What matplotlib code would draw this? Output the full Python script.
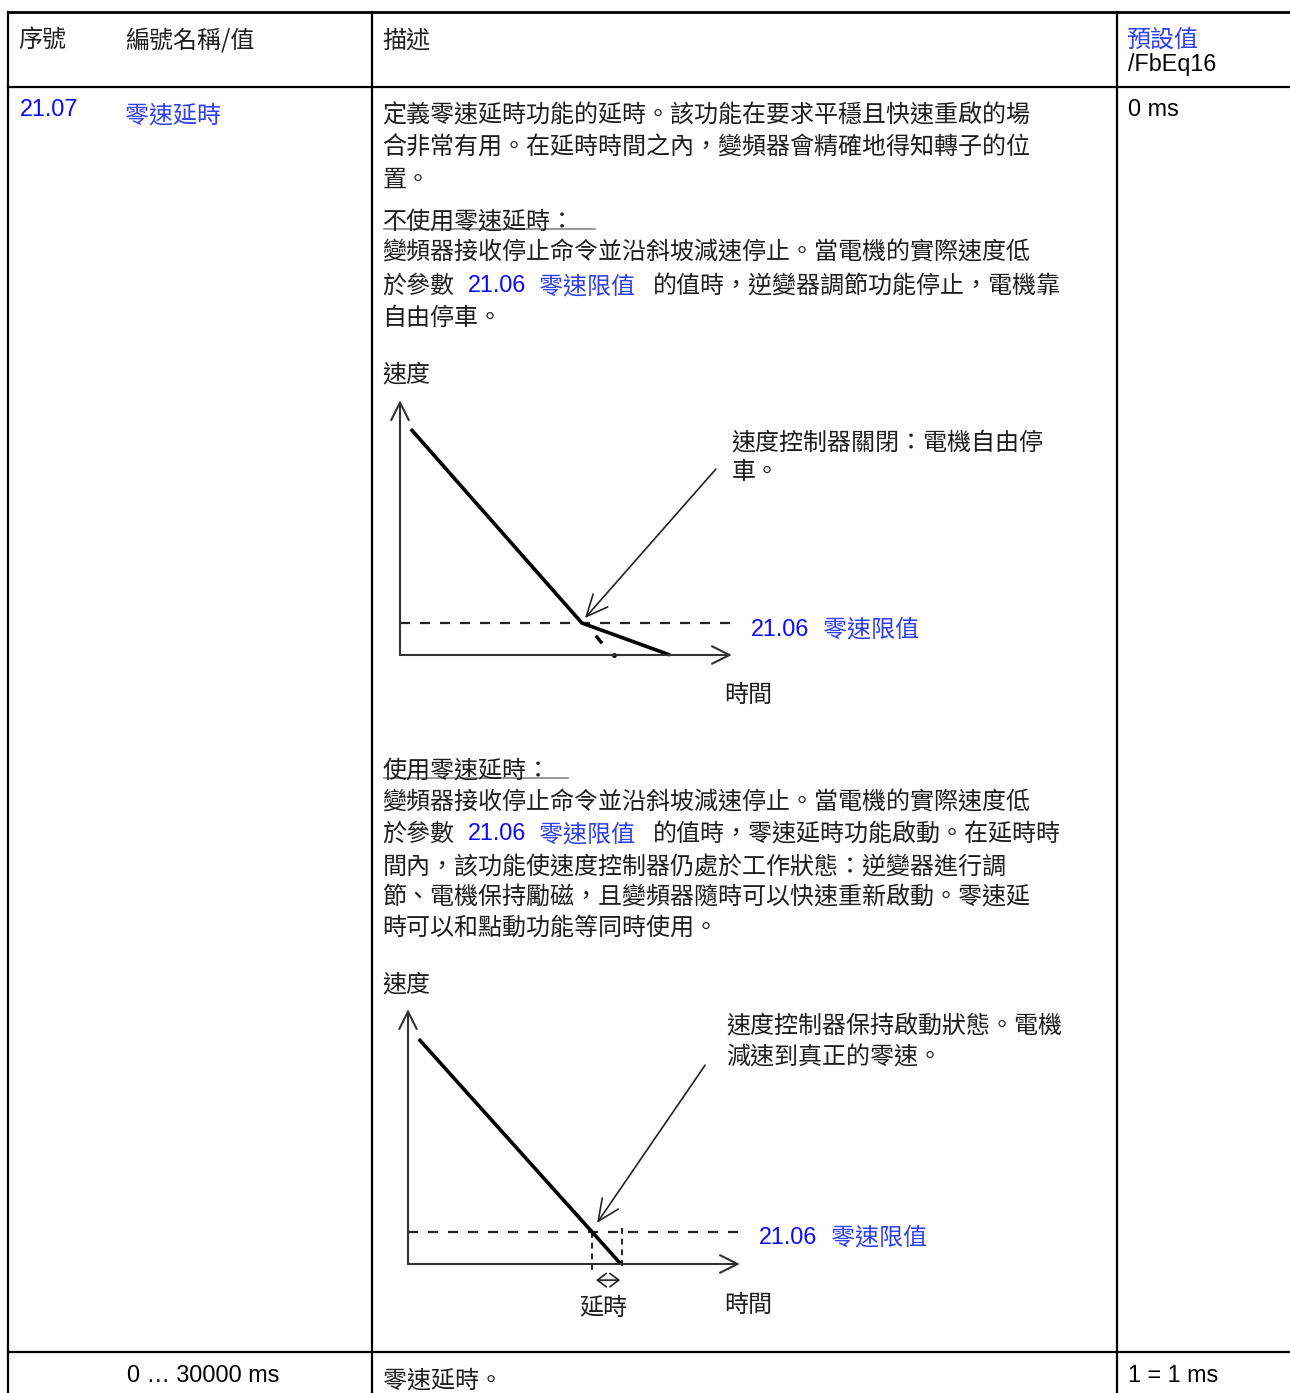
import matplotlib
matplotlib.use("Agg")
import matplotlib.pyplot as plt

CJK = ["Noto Sans CJK TC", "DejaVu Sans"]
LAT = ["Liberation Sans", "DejaVu Sans"]
TXT = "#1e1e1e"
BLUE = "#0a0aff"
LBLUE = "#3040f0"

# diagram 1: no zero speed delay (time, speed in arbitrary units)
d1_time = [0.32, 5.35, 7.94]
d1_speed = [8.69, 1.23, 0.0]
d1_limit = 1.23
d1_mark_t = [5.79, 5.91]
d1_mark_s = [0.69, 0.50]
d1_dot = (6.29, 0.0)
d1_arrow_tip = (5.44, 1.42)
d1_arrow_tail = (9.29, 7.15)

# diagram 2: with zero speed delay
d2_time = [0.32, 6.26]
d2_speed = [8.65, 0.0]
d2_limit = 1.23
d2_delay = (5.41, 6.29)
d2_arrow_tip = (5.56, 1.58)
d2_arrow_tail = (8.74, 7.65)

W, H = 1290, 1393
fig = plt.figure(figsize=(W / 100, H / 100), dpi=100)
ax = fig.add_axes([0, 0, 1, 1])
ax.set_xlim(0, W)
ax.set_ylim(H, 0)
ax.axis("off")


def t(x, y, s, color=TXT, fam=CJK, size=17.3, **kw):
    dx = -1.5 if fam is CJK else 0
    ax.text(x + dx, y + 2, s, color=color, family=fam, fontsize=size, va="center",
            ha=kw.pop("ha", "left"), **kw)


# table grid
lw = 1.6
ax.plot([8, W], [12, 12], color="black", lw=2.0)
ax.plot([8, W], [87, 87], color="black", lw=lw)
ax.plot([8, W], [1352, 1352], color="black", lw=lw)
for x in [8, 372, 1117]:
    ax.plot([x, x], [12, H], color="black", lw=lw)

# header
t(20, 38, "序號")
t(127, 38, "編號名稱/值")
t(384, 38, "描述")
t(1128, 38, "預設值", color=LBLUE)
t(1128, 63, "/FbEq16", color="black", fam=LAT, size=16.8)

# row 21.07
t(20, 108, "21.07", color=BLUE, fam=LAT, size=16.8)
t(127, 113, "零速延時", color=LBLUE)
t(1128, 108, "0 ms", color="black", fam=LAT, size=16.8)

lines = [
    (113, "定義零速延時功能的延時。該功能在要求平穩且快速重啟的場"),
    (146, "合非常有用。在延時時間之內，變頻器會精確地得知轉子的位"),
    (178, "置。"),
    (219, "不使用零速延時："),
    (250, "變頻器接收停止命令並沿斜坡減速停止。當電機的實際速度低"),
    (316, "自由停車。"),
    (372, "速度"),
    (768, "使用零速延時："),
    (800, "變頻器接收停止命令並沿斜坡減速停止。當電機的實際速度低"),
    (864, "間內，該功能使速度控制器仍處於工作狀態：逆變器進行調"),
    (895, "節、電機保持勵磁，且變頻器隨時可以快速重新啟動。零速延"),
    (926, "時可以和點動功能等同時使用。"),
    (982, "速度"),
]
for y, s in lines:
    t(384, y, s)

ax.plot([384, 595], [229, 229], color="#888888", lw=1.2)
ax.plot([384, 568], [778, 778], color="#888888", lw=1.2)

for y, rest in [(284, "的值時，逆變器調節功能停止，電機靠"),
                (832, "的值時，零速延時功能啟動。在延時時")]:
    t(384, y, "於參數")
    t(468, y, "21.06", color=BLUE, fam=LAT, size=16.8)
    t(541, y, "零速限值", color=LBLUE)
    t(654, y, rest)

# diagram labels
t(733, 440, "速度控制器關閉：電機自由停")
t(733, 470, "車。")
t(751, 627, "21.06", color=BLUE, fam=LAT, size=16.8)
t(824, 627, "零速限值", color=LBLUE)
t(726, 693, "時間")

t(728, 1024, "速度控制器保持啟動狀態。電機")
t(728, 1055, "減速到真正的零速。")
t(759, 1235, "21.06", color=BLUE, fam=LAT, size=16.8)
t(832, 1235, "零速限值", color=LBLUE)
t(726, 1303, "時間")
t(605, 1306, "延時", ha="center")

# bottom row
t(127, 1373, "0 … 30000 ms", color="black", fam=LAT, size=16.8)
t(384, 1378, "零速延時。")
t(1128, 1373, "1 = 1 ms", color="black", fam=LAT, size=16.8)


def diagram(x0, y0):
    # 10 time units = 340 px, 10 speed units = 260 px
    d = fig.add_axes([x0 / W, (H - y0) / H, 340 / W, 260 / H])
    d.set_xlim(0, 10)
    d.set_ylim(0, 10)
    d.axis("off")
    d.patch.set_alpha(0)
    head = dict(arrowstyle="->,head_length=0.9,head_width=0.45", color="#333333",
                lw=1.5, mutation_scale=14, shrinkA=0, shrinkB=0)
    d.annotate("", xy=(0, 9.8), xytext=(0, 0), arrowprops=head, annotation_clip=False)
    d.annotate("", xy=(9.76, 0), xytext=(0, 0), arrowprops=head, annotation_clip=False)
    return d


d1 = diagram(400, 655)
d1.plot([0, 9.79], [d1_limit, d1_limit], color="#222222", lw=1.6, dashes=(4.5, 4.5), clip_on=False)
d1.plot(d1_time, d1_speed, color="black", lw=2.6, solid_capstyle="butt", clip_on=False)
d1.plot(d1_mark_t, d1_mark_s, color="black", lw=2.4, clip_on=False)
d1.plot(*d1_dot, "o", color="black", ms=2.5, clip_on=False)
d1.annotate("", xy=d1_arrow_tip, xytext=d1_arrow_tail,
            arrowprops=dict(arrowstyle="->,head_length=1.1,head_width=0.5", color="#222222",
                            lw=1.2, mutation_scale=14, shrinkA=0, shrinkB=0), annotation_clip=False)

d2 = diagram(408, 1264)
d2.plot([0, 9.85], [d2_limit, d2_limit], color="#222222", lw=1.6, dashes=(4.5, 4.5), clip_on=False)
d2.plot([d2_delay[0]] * 2, [d2_limit, -0.23], color="#222222", lw=1.4, dashes=(3, 2.5), clip_on=False)
d2.plot([d2_delay[1]] * 2, [1.38, -0.23], color="#222222", lw=1.4, dashes=(3, 2.5), clip_on=False)
d2.plot(d2_time, d2_speed, color="black", lw=2.6, solid_capstyle="butt", clip_on=False)
d2.annotate("", xy=(6.24, -0.62), xytext=(5.53, -0.62),
            arrowprops=dict(arrowstyle="<->,head_length=0.4,head_width=0.3", color="#222222",
                            lw=1.2, mutation_scale=16, shrinkA=0, shrinkB=0), annotation_clip=False)
d2.annotate("", xy=d2_arrow_tip, xytext=d2_arrow_tail,
            arrowprops=dict(arrowstyle="->,head_length=1.1,head_width=0.5", color="#222222",
                            lw=1.2, mutation_scale=14, shrinkA=0, shrinkB=0), annotation_clip=False)

fig.savefig("out.png", dpi=100, facecolor="white")
